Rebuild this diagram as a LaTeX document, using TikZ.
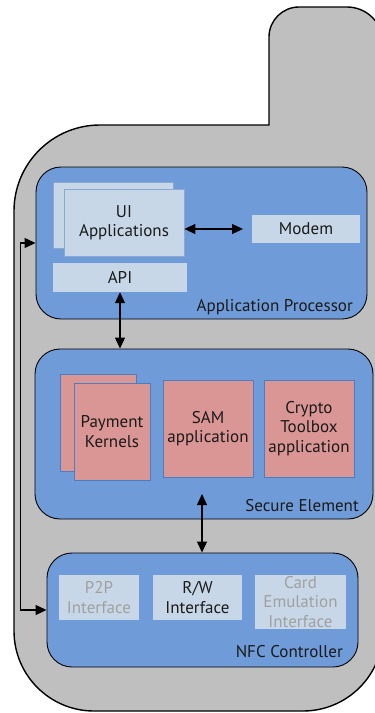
\documentclass[tikz,border=0pt]{standalone}
\usepackage{fontspec}
\setmainfont{PT Sans}
\usetikzlibrary{arrows.meta}
\definecolor{bodyc}{HTML}{BFBFBF}
\definecolor{blk}{HTML}{6F9CD9}
\definecolor{lightb}{HTML}{C8D7E8}
\definecolor{pinkb}{HTML}{D99694}
\definecolor{pinkedge}{HTML}{4A7EC0}
\definecolor{lightedge}{HTML}{8AA8D0}
\definecolor{graytxt}{HTML}{A0A0A0}
\definecolor{txt}{HTML}{1A1A1A}
\begin{document}
\begin{tikzpicture}[x=1pt,y=-1pt,
  txtf/.style={font=\fontsize{17}{19.5}\selectfont},
  container/.style={draw=black,line width=0.9pt,fill=blk,rounded corners=25pt,inner sep=0pt},
  lightbox/.style={fill=lightb,inner sep=0pt,txtf,text=txt,align=center},
  appbox/.style={lightbox,draw=lightedge,line width=0.8pt},
  pinkbox/.style={fill=pinkb,draw=pinkedge,line width=0.9pt,inner sep=0pt,txtf,text=txt,align=center},
  grayt/.style={text=graytxt},
  lbl/.style={txtf,text=txt,anchor=base east,inner sep=0pt},
  arr/.style={line width=1.2pt,{Triangle[length=11pt,width=10pt]}-{Triangle[length=11pt,width=10pt]}}
]
\useasboundingbox (0,0) rectangle (375,713);
% phone body
\draw[fill=bodyc,line width=1.4pt]
  (269,125) -- (269,37) arc[start angle=180,end angle=270,radius=30]
  -- (347,7) arc[start angle=270,end angle=360,radius=36]
  -- (383,631) arc[start angle=0,end angle=90,radius=80]
  -- (94,711) arc[start angle=90,end angle=180,radius=80]
  -- (14,211) arc[start angle=180,end angle=270,radius=86] -- cycle;
% containers
\node[container,minimum width=331pt,minimum height=152pt] (ap) at (201.5,243) {};
\node[container,minimum width=338pt,minimum height=170pt] (se) at (204,434) {};
\node[container,minimum width=311pt,minimum height=114pt] (nfc) at (202.5,610) {};
\node[lbl] (aplbl) at (353,311) {Application Processor};
\node[lbl] (selbl) at (359,511) {Secure Element};
\node[lbl] (nfclbl) at (343,657) {NFC Controller};
% application processor content
\node[appbox,minimum width=120pt,minimum height=66pt] (uiback) at (113,215) {};
\node[appbox,minimum width=120pt,minimum height=67pt] (ui) at (124,222.5) {UI\\Applications};
\node[lightbox,minimum width=108pt,minimum height=28pt] (modem) at (306,229) {Modem};
\node[lightbox,minimum width=134pt,minimum height=29pt] (api) at (120,277.5) {API};
% secure element content
\node[pinkbox,minimum width=76pt,minimum height=97pt] (pkback) at (98,422.5) {};
\node[pinkbox,minimum width=76pt,minimum height=97pt] (pk) at (112,431.5) {Payment\\Kernels};
\node[pinkbox,minimum width=90pt,minimum height=97pt] (sam) at (208,428.5) {SAM\\application};
\node[pinkbox,minimum width=90pt,minimum height=97pt] (crypto) at (309,428.5) {Crypto\\Toolbox\\application};
% nfc content
\node[lightbox,grayt,minimum width=80pt,minimum height=45pt] (p2p) at (99,597.5) {P2P\\Interface};
\node[lightbox,minimum width=89pt,minimum height=45pt] (rw) at (197.5,597.5) {R/W\\Interface};
\node[lightbox,grayt,minimum width=91pt,minimum height=54pt] (ce) at (300.5,602) {Card\\Emulation\\Interface};
% connectors
\coordinate (modemend) at (243,229);
\coordinate (seend) at (202,494);
\draw[arr] (modemend -| ui.east) -- (modemend);
\draw[arr] (api.south) -- (api.south |- se.north);
\draw[arr] (seend) -- (seend |- nfc.north);
\draw[arr] (ap.west) -- ++(-15,0) |- (nfc.west);
\end{tikzpicture}
\end{document}
